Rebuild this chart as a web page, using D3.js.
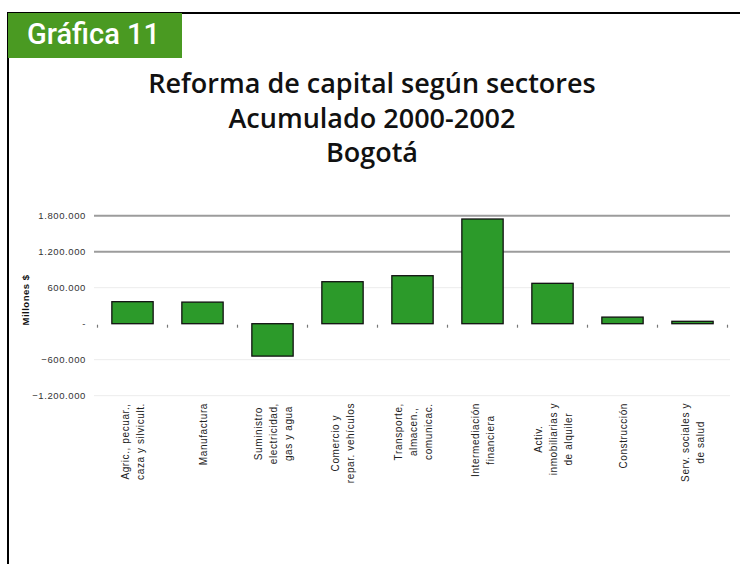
<!DOCTYPE html>
<html>
<head>
<meta charset="utf-8">
<script src="https://cdn.jsdelivr.net/npm/d3@7"></script>
<style>
  body { margin: 0; background: #fff; }
  svg { display: block; }
</style>
</head>
<body>
<div id="chart"></div>
<script>
// data
var categories = [
	['Agric., pecuar.,', 'caza y silvicult.'],
	['Manufactura'],
	['Suministro', 'electricidad,', 'gas y agua'],
	['Comercio y', 'repar. vehículos'],
	['Transporte,', 'almacen.,', 'comunicac.'],
	['Intermediación', 'financiera'],
	['Activ.', 'inmobiliarias y', 'de alquiler'],
	['Construcción'],
	['Serv. sociales y', 'de salud']
];
var values = [367000, 360000, -540000, 700000, 800000, 1745000, 673000, 110000, 40000];
var yTicks = [-1200000, -600000, 0, 600000, 1200000, 1800000];
var titleLines = ['Reforma de capital según sectores', 'Acumulado 2000-2002', 'Bogotá'];

const WIDTH = 740;
const HEIGHT = 564;

var svg = d3.select('#chart').append('svg')
	.attr('width', WIDTH)
	.attr('height', HEIGHT);

// frame
svg.append('path')
	.attr('d', 'M8,564 L8,13 L740,13')
	.attr('fill', 'none')
	.attr('stroke', '#000')
	.attr('stroke-width', 2);

// badge
svg.append('rect')
	.attr('x', 8).attr('y', 13)
	.attr('width', 174).attr('height', 45)
	.attr('fill', '#4a9a22');
svg.append('text')
	.attr('x', 27).attr('y', 44)
	.attr('fill', '#fff')
	.style('font-family', 'Roboto, sans-serif')
	.style('font-weight', 500)
	.style('font-size', '29px')
	.text('Gráfica 11');

// title
svg.append('g').selectAll('text').data(titleLines)
	.enter().append('text')
	.attr('x', 372)
	.attr('y', function (d, i) { return 93 + i * 34.5; })
	.attr('text-anchor', 'middle')
	.attr('fill', '#111')
	.style('font-family', '"Open Sans", sans-serif')
	.style('font-weight', 600)
	.style('font-size', '27px')
	.text(function (d) { return d; });

// scales
var x = d3.scaleBand()
	.domain(d3.range(categories.length))
	.range([97.5, 727.5])
	.paddingInner(0.41)
	.paddingOuter(0.205);
var y = d3.scaleLinear()
	.domain([-1200000, 1800000])
	.range([395.7, 215.7]);

var locale = d3.formatLocale({ decimal: ',', thousands: '.', grouping: [3], currency: ['$', ''] });
var fmt = locale.format(',.0f');

// gridlines
var grid = svg.append('g');
grid.selectAll('line').data(yTicks)
	.enter().append('line')
	.attr('x1', 94).attr('x2', 730)
	.attr('y1', function (d) { return y(d); })
	.attr('y2', function (d) { return y(d); })
	.attr('stroke', function (d) { return d >= 1200000 ? '#9c9c9c' : (d === 0 ? 'none' : '#ececec'); })
	.attr('stroke-width', function (d) { return d >= 1200000 ? 2 : 1; });

// y axis labels
var yAxis = d3.axisLeft(y)
	.tickValues(yTicks)
	.tickSize(0)
	.tickPadding(0)
	.tickFormat(function (d) { return d === 0 ? '-' : fmt(d); });
var yg = svg.append('g')
	.attr('transform', 'translate(86,0)')
	.call(yAxis);
yg.select('.domain').remove();
yg.selectAll('text')
	.attr('fill', '#333')
	.style('font-family', 'Liberation Sans, Arial, sans-serif')
	.style('font-size', '9.5px')
	.style('letter-spacing', '0.6px');

svg.append('text')
	.attr('transform', 'translate(29,300) rotate(-90)')
	.attr('text-anchor', 'middle')
	.attr('fill', '#111')
	.style('font-family', 'Liberation Sans, Arial, sans-serif')
	.style('font-weight', 700)
	.style('font-size', '9.5px')
	.style('letter-spacing', '0.5px')
	.text('Millones $');

// category tick marks
var step = x.step();
svg.append('g').selectAll('line').data(d3.range(categories.length + 1))
	.enter().append('line')
	.attr('x1', function (i) { return 97.5 + i * step; })
	.attr('x2', function (i) { return 97.5 + i * step; })
	.attr('y1', y(0) + 1)
	.attr('y2', y(0) + 4)
	.attr('stroke', '#777')
	.attr('stroke-width', 1.2);

// bars
svg.append('g').selectAll('rect').data(values)
	.enter().append('rect')
	.attr('x', function (d, i) { return x(i); })
	.attr('y', function (d) { return y(Math.max(0, d)); })
	.attr('width', x.bandwidth())
	.attr('height', function (d) { return Math.abs(y(d) - y(0)); })
	.attr('fill', '#2c9a2a')
	.attr('stroke', '#111')
	.attr('stroke-width', 1.3);

// category labels, rotated, lines centred in a box hanging from the top
var labelTop = 403;
var lineGap = 15;
var lg = svg.append('g');
categories.forEach(function (lines, i) {
	var g = lg.append('g');
	var texts = g.selectAll('text').data(lines)
		.enter().append('text')
		.attr('text-anchor', 'middle')
		.attr('fill', '#222')
		.style('font-family', 'Liberation Sans, Arial, sans-serif')
		.style('font-size', '10px')
		.style('letter-spacing', '0.6px')
		.text(function (d) { return d; });
	var maxLen = d3.max(texts.nodes(), function (n) { return n.getComputedTextLength(); });
	var cx = x(i) + x.bandwidth() / 2;
	var cy = labelTop + maxLen / 2;
	var n = lines.length;
	texts.attr('transform', function (d, j) {
		var off = (j - (n - 1) / 2) * lineGap + 4;
		return 'translate(' + (cx + off) + ',' + cy + ') rotate(-90)';
	});
});
</script>
</body>
</html>
